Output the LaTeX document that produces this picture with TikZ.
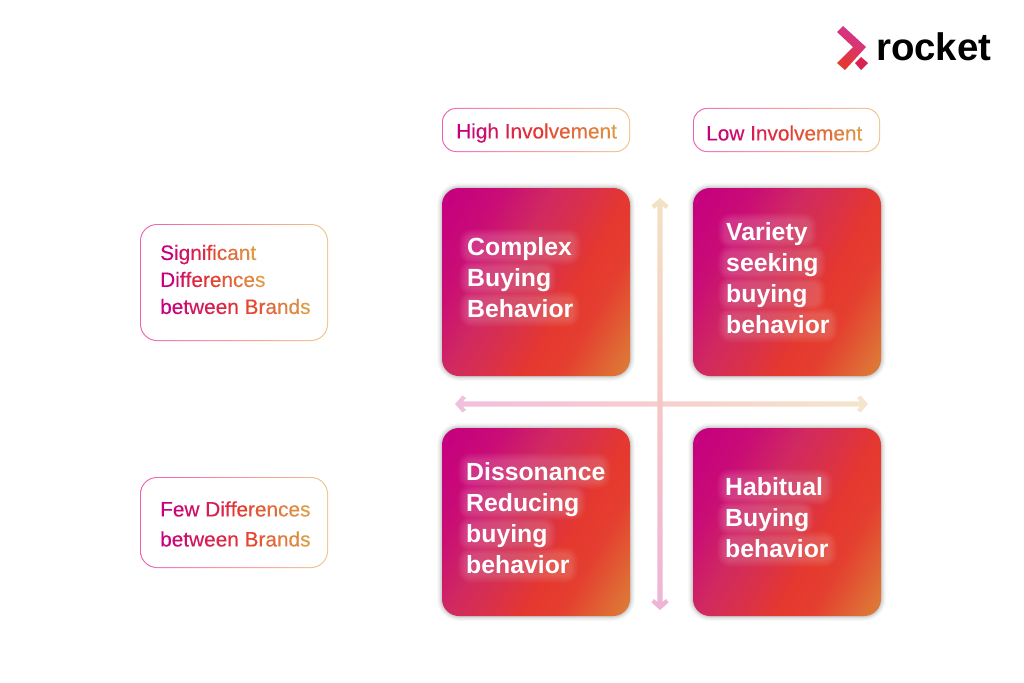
\documentclass[tikz,border=0pt]{standalone}
\usepackage{fontspec}
\setmainfont{Liberation Sans}
\newfontfamily\lblfont[FakeBold=0.25]{Liberation Sans}
\usetikzlibrary{calc}
\definecolor{gA}{HTML}{C6007F}
\definecolor{gB}{HTML}{E5382F}
\definecolor{gC}{HTML}{DE9A45}
\definecolor{gD}{HTML}{DC8038}
\definecolor{gM}{HTML}{D02A60}
\definecolor{oA}{HTML}{EE5FB4}
\definecolor{oB}{HTML}{FA8F96}
\definecolor{oC}{HTML}{F0C488}
\definecolor{aCream}{HTML}{F3E2C4}
\definecolor{aRose}{HTML}{F6C6C6}
\definecolor{aPink}{HTML}{EEB4D8}
\pgfdeclarehorizontalshading{tileshade}{100bp}{
 color(0bp)=(gA); color(18bp)=(gA); color(30bp)=(gA!70!gM); color(42bp)=(gM); color(50bp)=(gM!60!gB); color(60bp)=(gB); color(68bp)=(gB!90!gD); color(84bp)=(gD); color(100bp)=(gD)}
\pgfdeclarehorizontalshading{outlineshade}{100bp}{
 color(0bp)=(oA); color(25bp)=(oA); color(50bp)=(oB); color(75bp)=(oC); color(100bp)=(oC)}
\pgfdeclarehorizontalshading{armshade}{100bp}{
 color(0bp)=(aPink); color(25bp)=(aPink); color(50bp)=(aRose); color(75bp)=(aCream); color(100bp)=(aCream)}
\pgfdeclarehorizontalshading{logoshade}{100bp}{
 color(0bp)=(gB); color(25bp)=(gB); color(75bp)=(gA!80!white); color(100bp)=(gA!80!white)}
\ExplSyntaxOn
\int_new:N \l_grad_i_int
\int_new:N \l_grad_n_int
\int_new:N \l_grad_p_int
\NewDocumentCommand\gradline{m}{
  \int_set:Nn \l_grad_n_int {\str_count:n {#1}}
  \int_zero:N \l_grad_i_int
  \str_map_inline:nn {#1}{
    \int_incr:N \l_grad_i_int
    \int_set:Nn \l_grad_p_int {100*(\l_grad_i_int-1)/(\l_grad_n_int-1)}
    \str_if_eq:nnTF {##1}{|}{\space}{
      \int_compare:nNnTF {\l_grad_p_int}<{55}
        {\textcolor{gB!\int_eval:n{100*\l_grad_p_int/55}!gA}{##1}}
        {\textcolor{gC!\int_eval:n{100*(\l_grad_p_int-55)/45}!gB}{##1}}
    }
  }
}
\ExplSyntaxOff
\tikzset{
  tilebox/.style={minimum width=188,minimum height=188,rounded corners=17,inner sep=0,draw=none,shading=tileshade,shading angle=-30},
  tiletext/.style={font=\fontsize{24.8}{31}\selectfont\bfseries,text=white,align=left,anchor=west,inner sep=0},
  lbltext/.style={font=\lblfont\fontsize{20.8}{27}\selectfont,align=left,anchor=west,inner sep=0},
  lbltextb/.style={lbltext,font=\lblfont\fontsize{20.8}{30}\selectfont}
}
\newcommand{\tile}[7]{% name, cx, cy, text x, text y, text, y/width list for the glow
  \foreach \s/\o in {5/.03,4/.04,3/.05,2/.07,1/.09,0/.10}{
    \fill[black!70,opacity=\o,rounded corners=17+\s] ($(#2,#3)+(-94-\s,-94-\s)$) rectangle ($(#2,#3)+(94+\s,94+\s)$);
  }
  \node[tilebox] (#1) at (#2,#3) {};
  \foreach \g in {1,...,8}{
    \begin{scope}[transparency group,opacity=.022]
      \foreach \ly/\lw in {#7}{
        \fill[white,rounded corners=\g+5] ($(#4,\ly)+(-\g,-10-\g)$) rectangle ($(#4,\ly)+(\lw+\g,10+\g)$);
      }
    \end{scope}
  }
  \node[tiletext] (#1t) at (#4,#5) {#6};
}
\newcommand{\lblbg}[6]{% name, x1, y1, x2, y2, radius
  \path[shading=outlineshade,shading angle=0,rounded corners=#6] (#2,#3) rectangle (#4,#5);
  \path[fill=white,rounded corners=#6-0.8] ($(#2,#3)+(1,1)$) rectangle ($(#4,#5)+(-1,-1)$);
  \coordinate (#1) at ($(#2,#3)!.5!(#4,#5)$);
}
\begin{document}
\begin{tikzpicture}[x=1pt,y=-1pt]
\useasboundingbox (0,0) rectangle (1024,682);
\fill[white] (0,0) rectangle (1024,682);

% tiles
\tile{cbb}{536}{282}{467}{278}{Complex\\Buying\\Behavior}{247/106,278/81,309/105}
\tile{vsb}{787}{282}{726}{278}{Variety\\seeking\\buying\\behavior}{231/83,263/92,294/92,325/104}
\tile{drb}{536}{522}{466}{518}{Dissonance\\Reducing\\buying\\behavior}{471/137,502/112,534/82,565/104}
\tile{hbb}{787}{522}{725}{518}{Habitual\\Buying\\behavior}{487/100,518/81,549/104}

% axes
\coordinate (vt) at (660,198);
\coordinate (vb) at (660,610);
\coordinate (hl) at (455,404);
\coordinate (hr) at (868,404);
\path[shading=armshade,shading angle=90]
  (vt) -- ($(vt)+(8.5,7.5)$) -- ($(vt)+(6,11)$) -- ($(vt)+(2.6,8)$) -- ($(vb)+(2.6,-8)$) -- ($(vb)+(6,-11)$) -- ($(vb)+(8.5,-7.5)$) -- (vb)
  -- ($(vb)+(-8.5,-7.5)$) -- ($(vb)+(-6,-11)$) -- ($(vb)+(-2.6,-8)$) -- ($(vt)+(-2.6,8)$) -- ($(vt)+(-6,11)$) -- ($(vt)+(-8.5,7.5)$) -- cycle;
\path[shading=armshade,shading angle=0,opacity=.85]
  (hl) -- ($(hl)+(7.5,-8.5)$) -- ($(hl)+(11,-6)$) -- ($(hl)+(8,-2.6)$) -- ($(hr)+(-8,-2.6)$) -- ($(hr)+(-11,-6)$) -- ($(hr)+(-7.5,-8.5)$) -- (hr)
  -- ($(hr)+(-7.5,8.5)$) -- ($(hr)+(-11,6)$) -- ($(hr)+(-8,2.6)$) -- ($(hl)+(8,2.6)$) -- ($(hl)+(11,6)$) -- ($(hl)+(7.5,8.5)$) -- cycle;

% labels
\lblbg{hib}{442}{108}{630}{152}{14}
\node[lbltext] (hi) at (456,133) {\gradline{High|Involvement}};
\lblbg{lob}{693}{108}{880}{152}{14}
\node[lbltext] (lo) at (706,133) {\gradline{Low|Involvement}};
\lblbg{sdb}{140}{224}{328}{341}{17}
\node[lbltext] (sd) at (160,279.5) {\gradline{Significant}\\\gradline{Differences}\\\gradline{between|Brands}};
\lblbg{fdb}{140}{477}{328}{568}{17}
\node[lbltextb] (fd) at (160,524) {\gradline{Few|Differences}\\\gradline{between|Brands}};

% logo
\path[shading=logoshade,shading angle=60]
  (837,32) -- (843,26) -- (866,47) -- (845,70) -- (837,63) -- (853,47) -- cycle;
\path[fill=gB!60!gA] (861,57) -- (868,63) -- (861,70) -- (855,63) -- cycle;
\node[font=\fontsize{38.4}{38}\selectfont\bfseries,anchor=base west,inner sep=0,text=black] (rk) at (876,61) {rocket};
\end{tikzpicture}
\end{document}
